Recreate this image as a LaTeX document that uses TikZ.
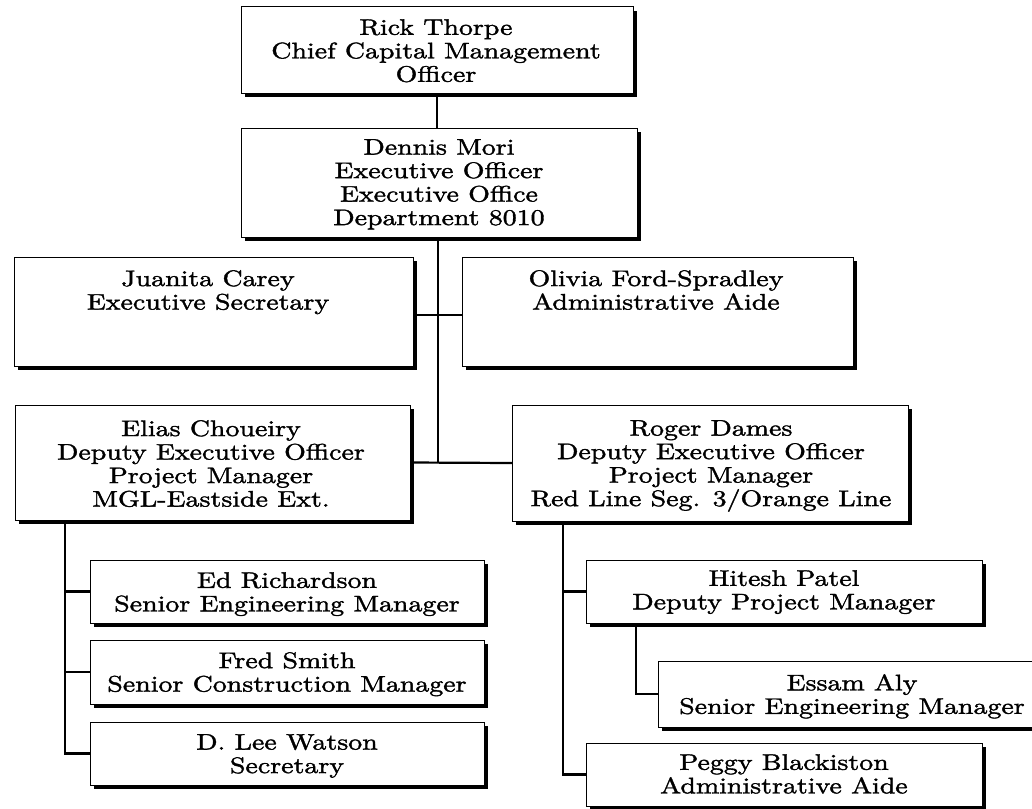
\documentclass[tikz,border=0pt]{standalone}
\usepackage{fontspec}
\setmainfont{lmroman10-regular.otf}[FakeStretch=1.24,FakeBold=1.6]
\usetikzlibrary{shadows}
\tikzset{
  box/.style={draw=black, line width=1pt, fill=white, inner sep=0pt, outer sep=0pt,
    drop shadow={shadow xshift=4pt, shadow yshift=-4pt, fill=black, opacity=1}},
  txt/.style={align=center, inner sep=0pt, anchor=north,
    font=\fontsize{22.5}{23.5}\selectfont},
  conn/.style={draw=black, line width=2.2pt}
}
\begin{document}
\begin{tikzpicture}[x=1pt,y=-1pt]
\useasboundingbox (0,0) rectangle (1032,808);
\clip (0,0) rectangle (1032,808);
\fill[white] (0,0) rectangle (1032,808);
% boxes
\node[box, minimum width=392pt, minimum height=86pt] (rt) at (437,50) {};
\node[box, minimum width=396pt, minimum height=109pt] (dm) at (439,182.5) {};
\node[box, minimum width=399pt, minimum height=109pt] (jc) at (213.5,311.5) {};
\node[box, minimum width=391pt, minimum height=109pt] (of) at (657.5,311.5) {};
\node[box, minimum width=395pt, minimum height=115pt] (ec) at (212.5,462.5) {};
\node[box, minimum width=396pt, minimum height=116pt] (rd) at (710,463) {};
\node[box, minimum width=394pt, minimum height=63pt] (er) at (287,591.5) {};
\node[box, minimum width=394pt, minimum height=64pt] (fs) at (287,672) {};
\node[box, minimum width=394pt, minimum height=63pt] (lw) at (287,753.5) {};
\node[box, minimum width=396pt, minimum height=63pt] (hp) at (784,591.5) {};
\node[box, minimum width=388pt, minimum height=66pt] (ea) at (852,694) {};
\node[box, minimum width=396pt, minimum height=63pt] (pb) at (784,774.5) {};
% texts
\node[txt] (trt) at (436,19) {Rick Thorpe\\Chief Capital Management\\Officer};
\node[txt] (tdm) at (439,139) {Dennis Mori\\Executive Officer\\Executive Office\\Department 8010};
\node[txt] (tjc) at (208,270) {Juanita Carey\\Executive Secretary};
\node[txt] (tof) at (656,270) {Olivia Ford-Spradley\\Administrative Aide};
\node[txt] (tec) at (211,420) {Elias Choueiry\\Deputy Executive Officer\\Project Manager\\MGL-Eastside Ext.};
\node[txt] (trd) at (711,420) {Roger Dames\\Deputy Executive Officer\\Project Manager\\Red Line Seg. 3/Orange Line};
\node[txt] (ter) at (287,572) {Ed Richardson\\Senior Engineering Manager};
\node[txt] (tfs) at (287,652) {Fred Smith\\Senior Construction Manager};
\node[txt] (tlw) at (287,734) {D. Lee Watson\\Secretary};
\node[txt] (thp) at (784,570) {Hitesh Patel\\Deputy Project Manager};
\node[txt] (tea) at (852,674) {Essam Aly\\Senior Engineering Manager};
\node[txt] (tpb) at (784,754) {Peggy Blackiston\\Administrative Aide};
% connectors
\coordinate (j1) at (438,462);
\coordinate (j2) at (438,315);
\draw[conn] (rt.south) -- (rt.south |- dm.north);
\draw[conn] (dm.south -| j1) -- (j1);
\draw[conn] (jc.east |- j2) -- (of.west |- j2);
\draw[conn] (ec.east) -- (rd.west);
\draw[conn] (ec.south -| 65,0) |- (lw.west);
\draw[conn] (ec.south -| 65,0) |- (er.west);
\draw[conn] (ec.south -| 65,0) |- (fs.west);
\draw[conn] (rd.south -| 563,0) |- (pb.west);
\draw[conn] (rd.south -| 563,0) |- (hp.west);
\draw[conn] (hp.south -| 636,0) |- (ea.west);
\end{tikzpicture}
\end{document}
